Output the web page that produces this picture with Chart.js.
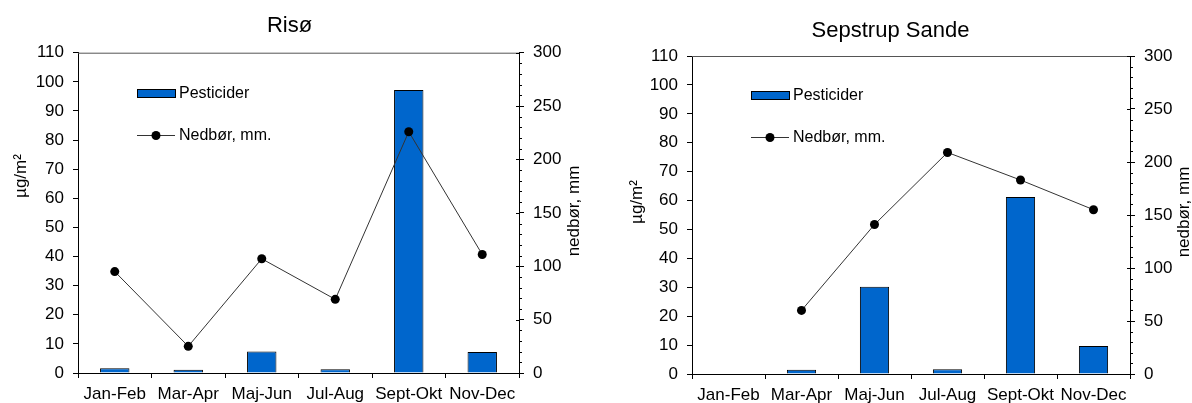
<!DOCTYPE html>
<html>
<head>
<meta charset="utf-8">
<script src="https://cdn.jsdelivr.net/npm/chart.js@4"></script>
<style>
  body { margin: 0; background: #fff; }
  .wrap { position: absolute; top: 0; width: 596px; height: 403px; }
</style>
</head>
<body>
<div class="wrap" style="left:0"><canvas id="riso" width="596" height="403"></canvas></div>
<div class="wrap" style="left:596px"><canvas id="sepstrup" width="596" height="403"></canvas></div>
<script>
const periods = ['Jan-Feb', 'Mar-Apr', 'Maj-Jun', 'Jul-Aug', 'Sept-Okt', 'Nov-Dec'];

// pesticider (µg/m2) and nedbør (mm) per period
const risoPesticider = [1.6, 1.1, 7.4, 1.3, 97.2, 7.2];
const risoNedbor = [95, 25, 107, 69, 226, 111];
const sepstrupPesticider = [null, 1.5, 30.2, 1.6, 61.2, 9.7];
const sepstrupNedbor = [null, 60, 141, 209, 183, 155];

const pestMax = 110, pestStep = 10;
const rainMax = 300, rainStep = 50, rainMinorStep = 10;

const FONT = "'Liberation Sans', Arial, sans-serif";
const BLUE = '#0066CC';

function makeChart(id, title, pest, rain, o) {
    const deco = {
        id: 'deco',
        afterDraw(chart) {
            const ctx = chart.ctx;
            const a = chart.chartArea;
            ctx.save();
            // top frame line
            ctx.strokeStyle = '#555';
            ctx.lineWidth = 1;
            ctx.beginPath();
            ctx.moveTo(a.left, a.top + 0.5);
            ctx.lineTo(a.right, a.top + 0.5);
            ctx.stroke();

            // minor ticks on the right axis
            const y1 = chart.scales.y1;
            ctx.strokeStyle = '#000';
            for (let v = 0; v <= rainMax; v += rainMinorStep) {
                const py = Math.round(y1.getPixelForValue(v)) + 0.5;
                ctx.beginPath();
                if (v % rainStep === 0) {
                    ctx.moveTo(a.right - 3, py);
                    ctx.lineTo(a.right, py);
                } else {
                    ctx.moveTo(a.right, py);
                    ctx.lineTo(a.right + 3, py);
                }
                ctx.stroke();
            }

            // legend
            ctx.fillStyle = BLUE;
            ctx.fillRect(o.legX, o.legY1 - 4, 38, 8);
            ctx.strokeStyle = '#000';
            ctx.strokeRect(o.legX + 0.5, o.legY1 - 4 + 0.5, 38, 8);
            ctx.strokeStyle = '#333';
            ctx.beginPath();
            ctx.moveTo(o.legX, o.legY2 + 0.5);
            ctx.lineTo(o.legX + 38, o.legY2 + 0.5);
            ctx.stroke();
            ctx.fillStyle = '#000';
            ctx.beginPath();
            ctx.arc(o.legX + 19, o.legY2 + 0.5, 4.5, 0, Math.PI * 2);
            ctx.fill();
            ctx.font = '16px ' + FONT;
            ctx.textAlign = 'left';
            ctx.textBaseline = 'middle';
            ctx.fillText('Pesticider', o.legX + 42, o.legY1 + 1);
            ctx.fillText('Nedbør, mm.', o.legX + 42, o.legY2 + 1);

            // axis titles
            ctx.font = '17px ' + FONT;
            ctx.textAlign = 'center';
            ctx.save();
            ctx.translate(o.yTitleX, o.yTitleY);
            ctx.rotate(-Math.PI / 2);
            ctx.fillText('µg/m²', 0, 0);
            ctx.restore();
            ctx.save();
            ctx.translate(o.y1TitleX, o.y1TitleY);
            ctx.rotate(-Math.PI / 2);
            ctx.fillText('nedbør, mm', 0, 0);
            ctx.restore();
            ctx.restore();
        }
    };

    return new Chart(document.getElementById(id), {
        type: 'bar',
        data: {
            labels: periods,
            datasets: [{
                type: 'line',
                label: 'Nedbør, mm.',
                data: rain,
                yAxisID: 'y1',
                borderColor: '#333',
                borderWidth: 1,
                pointRadius: 4.5,
                pointBackgroundColor: '#000',
                pointBorderColor: '#000',
                pointBorderWidth: 0,
                tension: 0,
                order: 0,
            }, {
                type: 'bar',
                label: 'Pesticider',
                data: pest,
                yAxisID: 'y',
                backgroundColor: BLUE,
                borderColor: '#000',
                borderWidth: 1,
                barPercentage: 0.4,
                categoryPercentage: 1,
                order: 1,
            }]
        },
        options: {
            responsive: false,
            animation: false,
            layout: { padding: { left: 0, right: o.padRight, top: 0, bottom: 0 } },
            plugins: {
                legend: { display: false },
                tooltip: { enabled: false },
                title: {
                    display: true,
                    text: title,
                    color: '#000',
                    font: { family: FONT, size: 22, weight: 'normal', lineHeight: 1.2 },
                    padding: { top: o.titleTop, bottom: o.titleBottom },
                },
            },
            scales: {
                x: {
                    grid: { drawOnChartArea: false, tickLength: 5, tickColor: '#000', offset: true },
                    border: { color: '#000', width: 1 },
                    ticks: {
                        color: '#000', font: { family: FONT, size: 17 }, padding: 6,
                        autoSkip: false, maxRotation: 0, minRotation: 0,
                    },
                    afterFit(s) { s.height = o.xH; },
                },
                y: {
                    position: 'left',
                    min: 0, max: pestMax,
                    grid: { drawOnChartArea: false, tickLength: 5, tickColor: '#000' },
                    border: { color: '#000', width: 1 },
                    ticks: { stepSize: pestStep, color: '#000', font: { family: FONT, size: 17 }, padding: 9 },
                    afterFit(s) { s.width = o.yW; },
                },
                y1: {
                    position: 'right',
                    min: 0, max: rainMax,
                    grid: { drawOnChartArea: false, tickLength: 5, tickColor: '#000' },
                    border: { color: '#000', width: 1 },
                    ticks: { stepSize: rainStep, color: '#000', font: { family: FONT, size: 17 }, padding: 9 },
                    afterFit(s) { s.width = o.y1W; },
                },
            },
        },
        plugins: [deco],
    });
}

makeChart('riso', 'Risø', risoPesticider, risoNedbor, {
    titleTop: 13, titleBottom: 13.3, xH: 30, yW: 78, y1W: 60, padRight: 17,
    legX: 137, legY1: 93, legY2: 135,
    yTitleX: 21, yTitleY: 176, y1TitleX: 574, y1TitleY: 211,
});

makeChart('sepstrup', 'Sepstrup Sande', sepstrupPesticider, sepstrupNedbor, {
    titleTop: 18, titleBottom: 11.6, xH: 29, yW: 96, y1W: 55, padRight: 7,
    legX: 155, legY1: 95, legY2: 137,
    yTitleX: 41, yTitleY: 202, y1TitleX: 588, y1TitleY: 212,
});
</script>
</body>
</html>
